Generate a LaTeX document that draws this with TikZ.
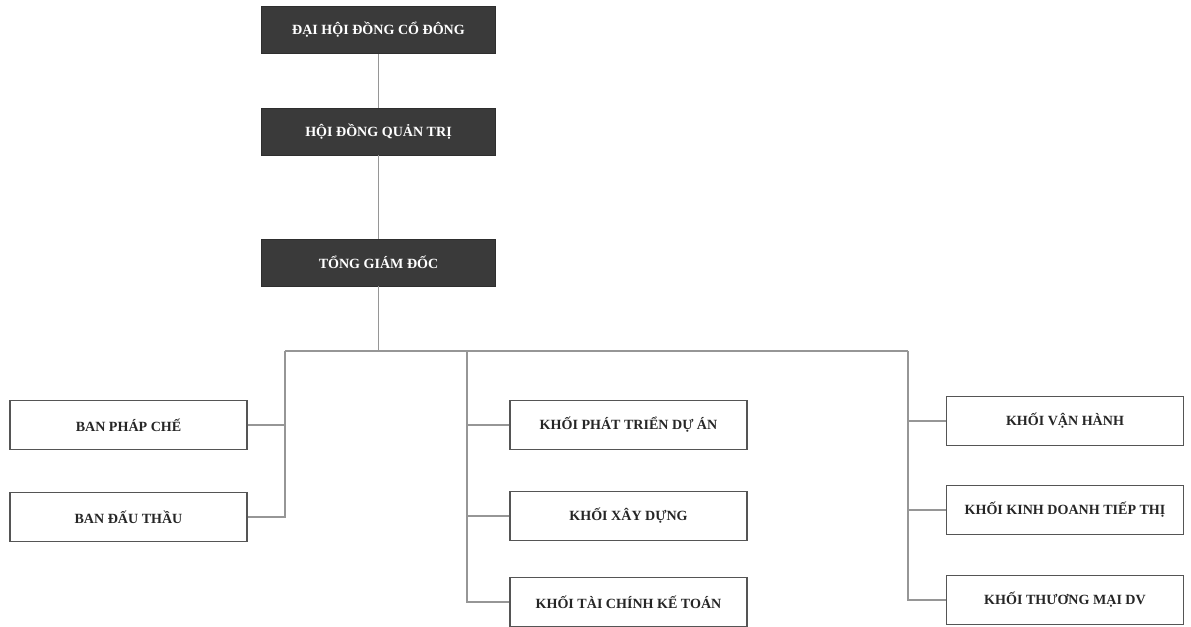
\documentclass[tikz,border=0pt]{standalone}
\usepackage{fontspec}
\setmainfont{Liberation Serif}
\usetikzlibrary{positioning, calc}
\definecolor{boss}{RGB}{58,58,58}
\definecolor{edge}{RGB}{85,85,85}
\definecolor{wire}{RGB}{150,150,150}

\begin{document}
\begin{tikzpicture}[
  D/.style={draw=boss!80!black,fill=boss,
            minimum width=4.68cm,minimum height=0.94cm,
            align=center,text=white,
            font=\fontsize{8}{9.6}\selectfont\bfseries},
  U/.style={draw=edge,thick,fill=white,
            minimum width=4.74cm,minimum height=0.98cm,
            align=center,text=black!85,
            font=\fontsize{8}{9.6}\selectfont\bfseries},
  ln/.style={wire,line width=0.6pt}
]
\useasboundingbox (0,0) rectangle (23.82,-12.54);

%% col-x:  2.57 | 7.57 | 12.57 | 21.3
%% bus-y: -7.02

% top of the chain
\node[D] (dh)   at (7.57,-0.60) {ĐẠI HỘI ĐỒNG CỔ ĐÔNG};
\node[D] (hdqt) at (7.57,-2.63) {HỘI ĐỒNG QUẢN TRỊ};
\node[D] (tgd)  at (7.57,-5.25) {TỔNG GIÁM ĐỐC};

% ban (left)
\node[U] (bpc) at (2.57,-8.50)  {BAN PHÁP CHẾ};
\node[U] (bdt) at (2.57,-10.34) {BAN ĐẤU THẦU};

% khoi (middle)
\node[U] (kpt) at (12.57,-8.50)  {KHỐI PHÁT TRIỂN DỰ ÁN};
\node[U] (kxd) at (12.57,-10.32) {KHỐI XÂY DỰNG};
\node[U] (ktc) at (12.57,-12.04) {KHỐI TÀI CHÍNH KẾ TOÁN};

% khoi (right)
\node[U] (kvh) at (21.30,-8.42)  {KHỐI VẬN HÀNH};
\node[U] (kkd) at (21.30,-10.20) {KHỐI KINH DOANH TIẾP THỊ};
\node[U] (ktm) at (21.30,-12.00) {KHỐI THƯƠNG MẠI DV};

% bus points
\coordinate (busL) at (5.70,-7.02);
\coordinate (busM) at (9.34,-7.02);
\coordinate (busR) at (18.16,-7.02);

% chain
\draw[ln] (dh.south) -- (hdqt.north);
\draw[ln] (hdqt.south) -- (tgd.north);
\draw[ln] (tgd.south) -- (tgd.south |- busL);
\draw[ln] (busL) -- (busR);

% left branch
\draw[ln] (busL) |- (bdt.east);
\draw[ln] (bpc.east) -- (bpc.east -| busL);

% middle branch
\draw[ln] (busM) |- (ktc.west);
\draw[ln] (kpt.west) -- (kpt.west -| busM);
\draw[ln] (kxd.west) -- (kxd.west -| busM);

% right branch
\draw[ln] (busR) |- (ktm.west);
\draw[ln] (kvh.west) -- (kvh.west -| busR);
\draw[ln] (kkd.west) -- (kkd.west -| busR);

\end{tikzpicture}
\end{document}
